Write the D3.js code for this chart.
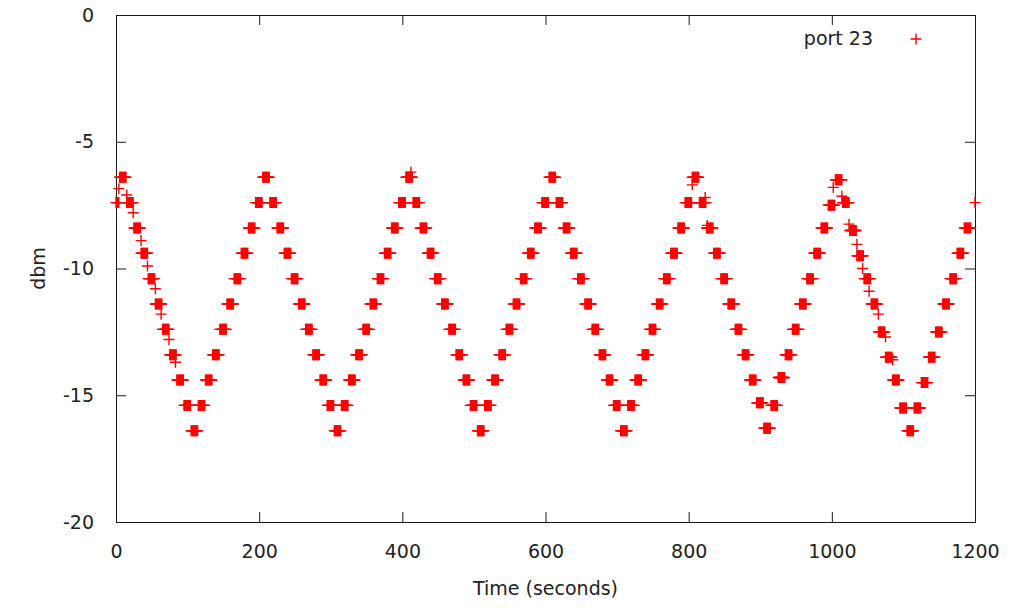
<!DOCTYPE html>
<html><head><meta charset="utf-8">
<script src="https://cdn.jsdelivr.net/npm/d3@7/dist/d3.min.js"></script>
<style>body{margin:0;background:#fff;overflow:hidden}svg{display:block}</style>
</head><body>
<svg id="chart"></svg>
<script>
// ---- data ----
// the logger samples once per second; the level is held in 10 s steps
const stepStart = [0,
  5,15,25,35,45,55,65,75,85,95,105,115,125,135,145,155,165,175,185,195,
  205,215,225,235,245,255,265,275,285,295,305,315,325,335,345,355,365,375,385,395,
  405,415,425,435,445,455,465,475,485,495,505,515,525,535,545,555,565,575,585,595,
  605,615,625,635,645,655,665,675,685,695,705,715,725,735,745,755,765,775,785,795,
  805,815,825,835,845,855,865,875,885,895,905,915,925,935,945,955,965,975,985,995,
  1005,1015,1025,1035,1045,1055,1065,1075,1085,1095,1105,1115,1125,1135,1145,1155,1165,1175,1185,1200];
const stepEnd = [4,
  14,24,34,44,54,64,74,84,94,104,114,124,134,144,154,164,174,184,194,204,
  214,224,234,244,254,264,274,284,294,304,314,324,334,344,354,364,374,384,394,404,
  414,424,434,444,454,464,474,484,494,504,514,524,534,544,554,564,574,584,594,604,
  614,624,634,644,654,664,674,684,694,704,714,724,734,744,754,764,774,784,794,804,
  814,824,834,844,854,864,874,884,894,904,914,924,934,944,954,964,974,984,994,1004,
  1014,1024,1034,1044,1054,1064,1074,1084,1094,1104,1114,1124,1134,1144,1154,1164,1174,1184,1194,1200];
const stepLevel = [-7.4,
  -6.4,-7.4,-8.4,-9.4,-10.4,-11.4,-12.4,-13.4,-14.4,-15.4,-16.4,-15.4,-14.4,-13.4,-12.4,-11.4,-10.4,-9.4,-8.4,-7.4,
  -6.4,-7.4,-8.4,-9.4,-10.4,-11.4,-12.4,-13.4,-14.4,-15.4,-16.4,-15.4,-14.4,-13.4,-12.4,-11.4,-10.4,-9.4,-8.4,-7.4,
  -6.4,-7.4,-8.4,-9.4,-10.4,-11.4,-12.4,-13.4,-14.4,-15.4,-16.4,-15.4,-14.4,-13.4,-12.4,-11.4,-10.4,-9.4,-8.4,-7.4,
  -6.4,-7.4,-8.4,-9.4,-10.4,-11.4,-12.4,-13.4,-14.4,-15.4,-16.4,-15.4,-14.4,-13.4,-12.4,-11.4,-10.4,-9.4,-8.4,-7.4,
  -6.4,-7.4,-8.4,-9.4,-10.4,-11.4,-12.4,-13.4,-14.4,-15.3,-16.3,-15.4,-14.3,-13.4,-12.4,-11.4,-10.4,-9.4,-8.4,-7.5,
  -6.5,-7.4,-8.5,-9.5,-10.4,-11.4,-12.5,-13.5,-14.4,-15.5,-16.4,-15.5,-14.5,-13.5,-12.5,-11.4,-10.4,-9.4,-8.4,-7.4];
// isolated readings between steps
const strayTime  = [4, 15, 24, 35, 44, 55, 63, 74, 83, 412, 805, 823, 826, 1002, 1014, 1024, 1035, 1043, 1052, 1065, 1075, 1085];
const strayLevel = [-6.85,-7.1,-7.8,-8.9,-9.9,-10.8,-11.8,-12.8,-13.7,-6.2,-6.7,-7.2,-8.3,-6.8,-7.15,-8.25,-9.05,-10.0,-10.9,-11.8,-12.7,-13.6];

const xTicks = [0,200,400,600,800,1000,1200];
const yTicks = [0,-5,-10,-15,-20];
const seriesName = "port 23";

// ---- layout ----
const W = 1025, H = 609;
const L = 116, R = 975, T = 15, B = 522;
const FONT = "'DejaVu Sans', sans-serif";
const FS = 19;

const svg = d3.select("#chart").attr("width", W).attr("height", H);
const x = d3.scaleLinear().domain([0,1200]).range([L,R]);
const y = d3.scaleLinear().domain([-20,0]).range([B,T]);

// samples
const samples = [];
stepStart.forEach((s,i)=>{
  for (let t = s; t <= stepEnd[i]; t++) samples.push({t, v: stepLevel[i]});
});
strayTime.forEach((t,i)=>samples.push({t, v: strayLevel[i]}));

const P = 5.5;
const plus = (cx,cy)=>`M${cx-P},${cy}H${cx+P}M${cx},${cy-P}V${cy+P}`;
const fmt = d => String(d);

// axes with inward ticks, mirrored
const tickLen = 10;
const axisColor = "#1a1a1a";
const gx = svg.append("g").attr("transform",`translate(0,${B})`)
  .call(d3.axisBottom(x).tickValues(xTicks).tickSize(-tickLen).tickPadding(tickLen+13).tickFormat(fmt));
const gxt = svg.append("g").attr("transform",`translate(0,${T})`)
  .call(d3.axisTop(x).tickValues(xTicks).tickSize(-tickLen).tickFormat(""));
const gy = svg.append("g").attr("transform",`translate(${L},0)`)
  .call(d3.axisLeft(y).tickValues(yTicks).tickSize(-tickLen).tickPadding(tickLen+12).tickFormat(fmt));
const gyr = svg.append("g").attr("transform",`translate(${R},0)`)
  .call(d3.axisRight(y).tickValues(yTicks).tickSize(-tickLen).tickFormat(""));
[gx,gxt,gy,gyr].forEach(g=>{
  g.select(".domain").remove();
  g.selectAll("line").attr("stroke",axisColor).attr("stroke-width",1);
  g.selectAll("text").attr("font-family",FONT).attr("font-size",FS).attr("fill","#222");
});
svg.append("rect").attr("x",L+0.5).attr("y",T+0.5).attr("width",R-L).attr("height",B-T)
  .attr("fill","none").attr("stroke",axisColor).attr("stroke-width",1);

// points
svg.append("g").selectAll("path").data(samples).join("path")
  .attr("d", d=>plus(x(d.t), y(d.v)))
  .attr("stroke","#ff0000").attr("stroke-width",1.4).attr("fill","none");

// axis titles
svg.append("text").attr("x",(L+R)/2).attr("y",595).attr("text-anchor","middle")
  .attr("font-family",FONT).attr("font-size",FS).attr("fill","#222").text("Time (seconds)");
svg.append("text").attr("transform",`translate(45,${(T+B)/2}) rotate(-90)`).attr("text-anchor","middle")
  .attr("font-family",FONT).attr("font-size",FS).attr("fill","#222").text("dbm");

// legend
svg.append("text").attr("x",873).attr("y",45).attr("text-anchor","end")
  .attr("font-family",FONT).attr("font-size",FS).attr("fill","#222").text(seriesName);
svg.append("path").attr("d",plus(916,39)).attr("stroke","#ff0000").attr("stroke-width",1.4).attr("fill","none");
</script>
</body></html>
